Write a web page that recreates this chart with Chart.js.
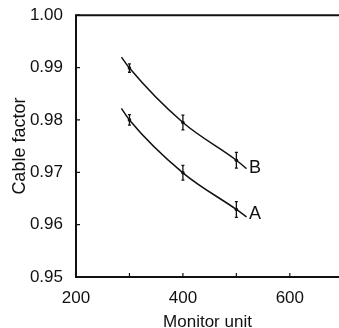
<!DOCTYPE html>
<html>
<head>
<meta charset="utf-8">
<script src="https://cdn.jsdelivr.net/npm/chart.js@4.4.0/dist/chart.umd.min.js"></script>
<style>
html,body{margin:0;padding:0;background:#fff;}
#wrap{width:339px;height:328px;position:relative;}
</style>
</head>
<body>
<div id="wrap"><canvas id="c" width="339" height="328"></canvas></div>
<script>
// Measured points
const monitorUnits = [300, 400, 500];
const factorA = [0.9800, 0.9699, 0.9629];
const factorB = [0.9899, 0.9795, 0.9723];
const errA = [0.0010, 0.0014, 0.0015];
const errB = [0.0008, 0.0014, 0.0015];
// Fitted curves
const curveX = [285, 300, 400, 500, 519];
const curveA = [0.9822, 0.9800, 0.9699, 0.9629, 0.9615];
const curveB = [0.9920, 0.9899, 0.9795, 0.9723, 0.9707];
const xTicks = [200, 300, 400, 500, 600];
const xLabels = [200, 400, 600];
const yTicks = [0.95, 0.96, 0.97, 0.98, 0.99, 1.00];
const curveLabels = [{text:'B', x:535, y:0.9709}, {text:'A', x:535, y:0.9620}];

const INK = '#111';
const titleFont = '18px "Liberation Sans", sans-serif';

const frame = {
  id: 'frame',
  afterDatasetsDraw(chart) {
    const {ctx, chartArea: a, scales: {x, y}} = chart;
    ctx.save();
    ctx.strokeStyle = INK;
    ctx.lineWidth = 2;
    ctx.beginPath();
    ctx.moveTo(a.right, a.top); ctx.lineTo(a.left, a.top);
    ctx.lineTo(a.left, a.bottom); ctx.lineTo(a.right, a.bottom);
    ctx.stroke();
    ctx.lineWidth = 1.2;
    ctx.beginPath();
    xTicks.forEach(v => {
      const px = x.getPixelForValue(v);
      ctx.moveTo(px, a.bottom); ctx.lineTo(px, a.bottom - 4);
    });
    yTicks.forEach(v => {
      const py = y.getPixelForValue(v);
      ctx.moveTo(a.left, py); ctx.lineTo(a.left + 4, py);
    });
    ctx.stroke();
    // error bars
    ctx.lineWidth = 1.3;
    const drawErr = (vals, errs) => {
      vals.forEach((v, i) => {
        const px = x.getPixelForValue(monitorUnits[i]);
        const y1 = y.getPixelForValue(v + errs[i]);
        const y2 = y.getPixelForValue(v - errs[i]);
        ctx.beginPath();
        ctx.moveTo(px, y1); ctx.lineTo(px, y2);
        ctx.moveTo(px - 1.5, y1); ctx.lineTo(px + 1.5, y1);
        ctx.moveTo(px - 1.5, y2); ctx.lineTo(px + 1.5, y2);
        ctx.stroke();
        ctx.beginPath();
        ctx.arc(px, y.getPixelForValue(v), 1.8, 0, Math.PI * 2);
        ctx.fillStyle = INK; ctx.fill();
      });
    };
    drawErr(factorA, errA);
    drawErr(factorB, errB);
    // curve labels
    ctx.fillStyle = INK;
    ctx.font = titleFont;
    ctx.textAlign = 'center';
    ctx.textBaseline = 'middle';
    curveLabels.forEach(l => ctx.fillText(l.text, x.getPixelForValue(l.x), y.getPixelForValue(l.y)));
    ctx.restore();
  }
};

new Chart(document.getElementById('c'), {
  type: 'line',
  data: {
    datasets: [
      {label:'A', data: curveX.map((v,i)=>({x:v, y:curveA[i]})), borderColor: INK, borderWidth: 1.5, pointRadius: 0, cubicInterpolationMode: 'monotone', fill: false},
      {label:'B', data: curveX.map((v,i)=>({x:v, y:curveB[i]})), borderColor: INK, borderWidth: 1.5, pointRadius: 0, cubicInterpolationMode: 'monotone', fill: false}
    ]
  },
  options: {
    responsive: false,
    animation: false,
    events: [],
    layout: {padding: {top: 15, right: 0, left: 9, bottom: 0}},
    plugins: {legend: {display: false}, tooltip: {enabled: false}},
    scales: {
      x: {
        type: 'linear', min: 200, max: 692,
        afterBuildTicks: s => { s.ticks = xLabels.map(v => ({value: v})); },
        afterFit: s => { s.height = 51; },
        grid: {display: false},
        border: {display: false},
        ticks: {color: INK, font: {family: '"Liberation Sans Narrow", "Liberation Sans", sans-serif', size: 17}, padding: 3, maxRotation: 0,
                callback: v => String(v)},
        title: {display: true, text: 'Monitor unit', color: INK, font: {family: '"Liberation Sans", sans-serif', size: 17}, padding: {top: 0, bottom: -5}}
      },
      y: {
        type: 'linear', min: 0.95, max: 1.00,
        afterBuildTicks: s => { s.ticks = yTicks.map(v => ({value: v})); },
        afterFit: s => { s.width = 67; },
        grid: {display: false},
        border: {display: false},
        ticks: {color: INK, font: {family: '"Liberation Sans Narrow", "Liberation Sans", sans-serif', size: 17}, padding: 5,
                callback: v => v.toFixed(2)},
        title: {display: true, text: 'Cable factor', color: INK, font: {family: '"Liberation Sans", sans-serif', size: 18}, padding: {top: 0, bottom: 4}}
      }
    }
  },
  plugins: [frame]
});
</script>
</body>
</html>
